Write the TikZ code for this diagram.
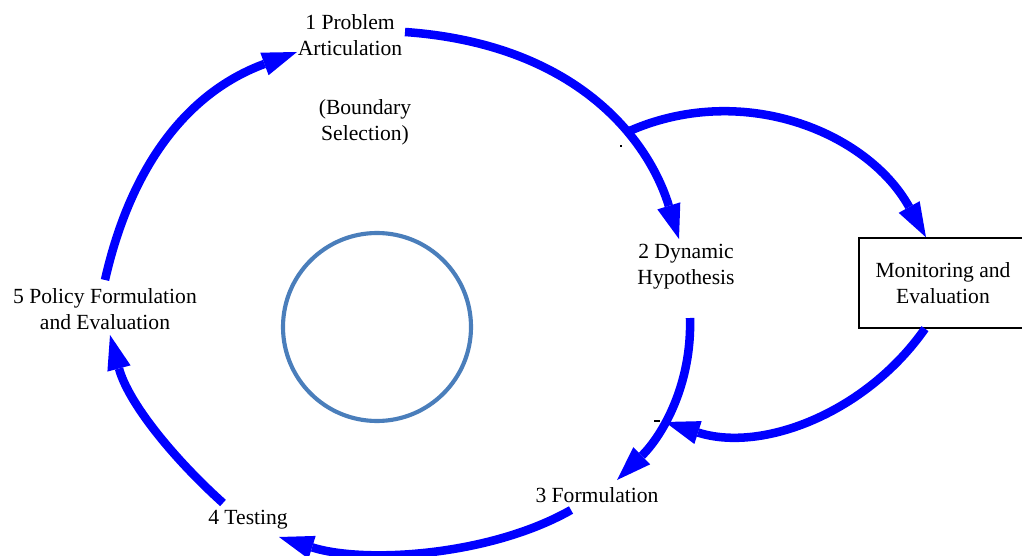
\documentclass[tikz,border=0pt]{standalone}
\usepackage{fontspec}
\setmainfont{Liberation Serif}
\usetikzlibrary{arrows.meta}
\definecolor{flowblue}{RGB}{0,0,255}
\definecolor{ringblue}{RGB}{74,126,187}
\begin{document}
\begin{tikzpicture}[x=0.75pt,y=-0.75pt,
  lbl/.style={font=\fontsize{16.2}{19.5}\selectfont, align=center, inner sep=0pt},
  flow/.style={draw=flowblue, line width=6.4pt,
    -{Triangle[length=26pt,width=18pt,line width=0pt]}},
  boxnode/.style={draw=black, line width=1pt, minimum width=126pt, minimum height=67.5pt, inner sep=0pt},
  speck/.style={fill=black, inner sep=0pt}
]
\useasboundingbox (0,0) rectangle (1022,556);
\fill[white] (0,0) rectangle (1022,556);

% labels
\node[lbl] (n1) at (350,35) {1 Problem\\Articulation};
\node[lbl] (nb) at (365,122) {(Boundary\\Selection)};
\node[lbl] (n2) at (686,267) {2 Dynamic\\Hypothesis};
\node[lbl] (n3) at (597,495) {3 Formulation};
\node[lbl] (n4) at (248,520) {4 Testing};
\node[lbl] (n5) at (105,309) {5 Policy Formulation\\and Evaluation};
\node[boxnode, lbl, draw] (mon) at (943,283) {Monitoring and\\Evaluation};

% central ring
\node[draw=ringblue, line width=3.1pt, circle, minimum size=141pt, inner sep=0pt] (ring) at (377,327) {};

% connector end points
\coordinate (a1s) at (405,32);
\coordinate (a1e) at (679,239);
\coordinate (a2s) at (690,318);
\coordinate (a2e) at (617,480);
\coordinate (a3s) at (571,510);
\coordinate (a3e) at (279,537);
\coordinate (a4s) at (223,503);
\coordinate (a4e) at (110,335);
\coordinate (a5s) at (105,280);
\coordinate (a5e) at (297,52);
\coordinate (a6s) at (625,133);
\coordinate (a7e) at (665,422);

% main loop
\draw[flow] (a1s) .. controls (575,44) and (648,138) .. (a1e);
\draw[flow] (a2s) .. controls (692,385) and (662,436) .. (a2e);
\draw[flow] (a3s) .. controls (490,556) and (365,564) .. (a3e);
\draw[flow] (a4s) .. controls (172,457) and (128,402) .. (a4e);
\draw[flow] (a5s) .. controls (131,165) and (188,92) .. (a5e);

% monitoring loop
\draw[flow] (a6s) .. controls (740,80) and (867,131) .. (mon.north -| 926,0);
\draw[flow] (mon.south -| 925,0) .. controls (866,413) and (762,453) .. (a7e);

% small marks
\node[speck, minimum width=1.5pt, minimum height=1.5pt] (dot1) at (621,146) {};
\node[speck, minimum width=4pt, minimum height=0.9pt] (dot2) at (657,421) {};
\end{tikzpicture}
\end{document}
